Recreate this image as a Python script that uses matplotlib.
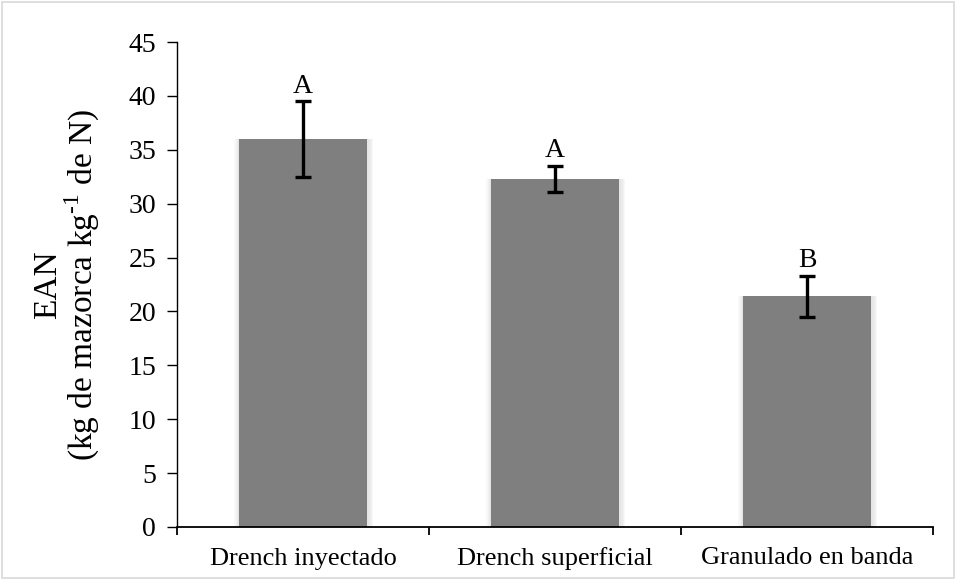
import matplotlib
matplotlib.use("Agg")
import matplotlib.pyplot as plt
from matplotlib.patches import Rectangle

categories = ["Drench inyectado", "Drench superficial", "Granulado en banda"]
values = [36.0, 32.3, 21.4]
errors = [3.5, 1.2, 1.9]
letters = ["A", "A", "B"]
yticks = [0, 5, 10, 15, 20, 25, 30, 35, 40, 45]

plt.rcParams['font.family'] = ['Liberation Serif', 'DejaVu Serif']
plt.rcParams['mathtext.fontset'] = 'custom'
plt.rcParams['mathtext.rm'] = 'Liberation Serif'

fig = plt.figure(figsize=(9.57, 5.8), dpi=100)
ax = fig.add_axes([177/957, 53/580, (933-177)/957, (527-42)/580])

x = list(range(len(categories)))
# soft shadow around bars
for i in range(4):
    w = 0.51 + 0.005 * (i + 1) * 2
    ax.bar([xi + 0.003 for xi in x], values, width=w, color="#7f7f7f",
           alpha=0.05, zorder=1, linewidth=0)
ax.bar(x, values, width=0.51, color="#7f7f7f", zorder=2, linewidth=0)
ax.errorbar(x, values, yerr=errors, fmt="none", ecolor="black", elinewidth=2.4,
            capsize=6, capthick=2.4, zorder=3)
for xi, v, e, l in zip(x, values, errors, letters):
    ax.text(xi, v + e + 0.8, l, ha="center", va="baseline", fontsize=20)

ax.set_xlim(-0.5, 2.5)
ax.set_ylim(0, 45)
ax.set_yticks(yticks)
ax.set_xticks(x)
ax.set_xticklabels(categories, fontsize=19)
for lab in ax.get_xticklabels():
    lab.set_verticalalignment("baseline")
ax.set_xticks([-0.5, 0.5, 1.5, 2.5], minor=True)
ax.tick_params(axis="x", which="major", length=0, pad=27)
ax.tick_params(axis="x", which="minor", length=6, width=1.3, direction="out")
ax.tick_params(axis="y", labelsize=20, length=7, width=1.0, direction="out", pad=8)
for s in ["top", "right"]:
    ax.spines[s].set_visible(False)
ax.spines["left"].set_linewidth(1.0)
ax.spines["bottom"].set_linewidth(1.3)
ax.set_ylabel("EAN\n(kg de mazorca kg$^{\\text{-1}}$ de N)", fontsize=24, labelpad=19,
              linespacing=1.0)

fig.patches.append(Rectangle((0.002, 0.003), 0.995, 0.993, transform=fig.transFigure,
                             fill=False, edgecolor="#d9d9d9", linewidth=1.2))
fig.savefig("out.png", dpi=100)
